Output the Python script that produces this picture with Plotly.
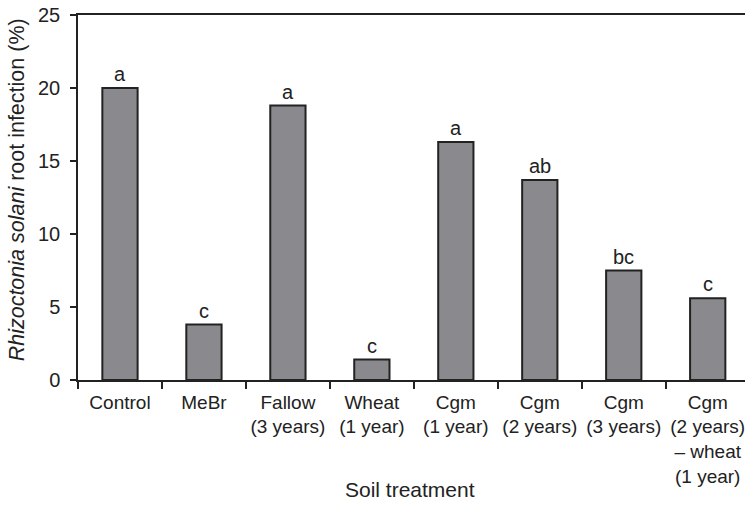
import plotly.graph_objects as go

# Soil treatments and mean Rhizoctonia solani root infection (%)
treatments = [
    "Control",
    "MeBr",
    "Fallow<br>(3 years)",
    "Wheat<br>(1 year)",
    "Cgm<br>(1 year)",
    "Cgm<br>(2 years)",
    "Cgm<br>(3 years)",
    "Cgm<br>(2 years)<br>– wheat<br>(1 year)",
]
infection = [20.0, 3.8, 18.8, 1.4, 16.3, 13.7, 7.5, 5.6]
letters = ["a", "c", "a", "c", "a", "ab", "bc", "c"]
y_ticks = [0, 5, 10, 15, 20, 25]

INK = "#222222"
FONT = "Liberation Sans, Arial, Helvetica, sans-serif"

W, H = 745, 524
L, T, B = 77.7, 15, 144
plot_w = W - L
plot_h = H - T - B
cat_px = 84.0

fig = go.Figure()
fig.add_trace(go.Bar(
    x=treatments,
    y=infection,
    width=0.42,
    marker=dict(color="#8a8a8e", line=dict(color=INK, width=2)),
    hoverinfo="skip",
))

# Significance letters above each bar
for cat, val, lab in zip(treatments, infection, letters):
    fig.add_annotation(
        x=cat, y=val, text=lab, showarrow=False,
        yanchor="bottom", yshift=1,
        font=dict(family=FONT, size=20, color=INK),
    )

# Axis titles
fig.add_annotation(
    xref="paper", yref="paper",
    x=(17 - L) / plot_w, y=(H - B - 190) / plot_h,
    text="<i>Rhizoctonia solani</i> root infection (%)",
    textangle=-90, showarrow=False,
    xanchor="center", yanchor="middle",
    font=dict(family=FONT, size=21.5, color=INK),
)
fig.add_annotation(
    xref="paper", yref="paper",
    x=(410 - L) / plot_w, y=-(490 - (H - B)) / plot_h,
    text="Soil treatment", showarrow=False,
    xanchor="center", yanchor="middle",
    font=dict(family=FONT, size=21, color=INK),
)

fig.update_layout(
    width=W, height=H,
    margin=dict(l=L, r=0, t=T, b=B, pad=0, autoexpand=False),
    paper_bgcolor="white", plot_bgcolor="white",
    showlegend=False,
    xaxis=dict(
        type="category",
        range=[-0.5, -0.5 + plot_w / cat_px],
        showline=True, linecolor=INK, linewidth=1.5,
        mirror=True,
        ticks="outside", tickson="boundaries", ticklen=7,
        tickcolor=INK, tickwidth=1.5,
        tickangle=0,
        showgrid=False, zeroline=False,
        tickfont=dict(family=FONT, size=19, color=INK),
        ticklabelstandoff=4,
        automargin=False,
        fixedrange=True,
    ),
    yaxis=dict(
        range=[0, 25],
        tickvals=y_ticks,
        showline=True, linecolor=INK, linewidth=1.5,
        ticks="outside", ticklen=6, tickcolor=INK, tickwidth=1.5,
        showgrid=False, zeroline=False,
        tickfont=dict(family=FONT, size=20, color=INK),
        ticklabelstandoff=6,
        automargin=False,
        fixedrange=True,
    ),
)

fig.write_html("out.html")
